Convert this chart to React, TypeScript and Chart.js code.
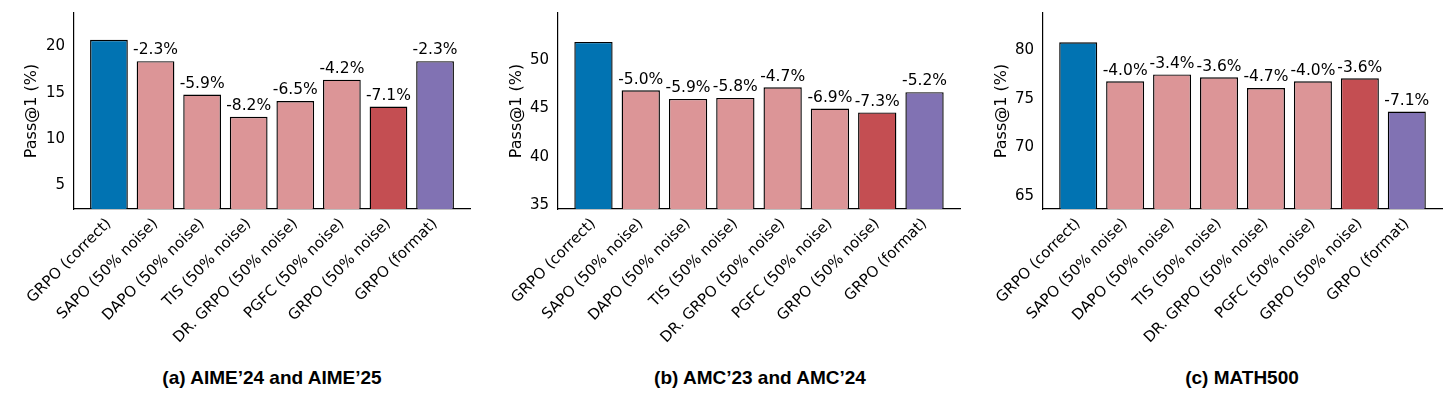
import React, { useEffect, useRef } from "react";
import { Chart, registerables } from "chart.js";
Chart.register(...registerables);

const categories = ["GRPO (correct)", "SAPO (50% noise)", "DAPO (50% noise)", "TIS (50% noise)", "DR. GRPO (50% noise)", "PGFC (50% noise)", "GRPO (50% noise)", "GRPO (format)"];
const aimeValues = [20.7, 18.4, 14.8, 12.4, 14.1, 16.4, 13.5, 18.4];
const aimeLabels = ["", "-2.3%", "-5.9%", "-8.2%", "-6.5%", "-4.2%", "-7.1%", "-2.3%"];
const aimeTicks = [5, 10, 15, 20];
const amcValues = [51.9, 46.9, 46.0, 46.1, 47.2, 45.0, 44.6, 46.7];
const amcLabels = ["", "-5.0%", "-5.9%", "-5.8%", "-4.7%", "-6.9%", "-7.3%", "-5.2%"];
const amcTicks = [35, 40, 45, 50];
const mathValues = [80.8, 76.8, 77.5, 77.2, 76.1, 76.8, 77.1, 73.7];
const mathLabels = ["", "-4.0%", "-3.4%", "-3.6%", "-4.7%", "-4.0%", "-3.6%", "-7.1%"];
const mathTicks = [65, 70, 75, 80];
const titles = ["(a) AIME\u201924 and AIME\u201925", "(b) AMC\u201923 and AMC\u201924", "(c) MATH500"];

const colors = ["#0173b2", "#dc9597", "#dc9597", "#dc9597", "#dc9597", "#dc9597", "#c44e52", "#8172b3"];
const FONT = "'DejaVu Sans', sans-serif";
const SHIFT = 20;

type P = { left: number; yw: number; right: number; values: number[]; labels: string[]; ticks: number[]; min: number; max: number; title: string; center: number };
const panels: P[] = [
  { left: 0, yw: 74, right: 15, values: aimeValues, labels: aimeLabels, ticks: aimeTicks, min: 2.45, max: 23.6, title: titles[0], center: 272 },
  { left: 485, yw: 73, right: 10, values: amcValues, labels: amcLabels, ticks: amcTicks, min: 34.6, max: 54.9, title: titles[1], center: 760 },
  { left: 970, yw: 73, right: 13, values: mathValues, labels: mathLabels, ticks: mathTicks, min: 63.7, max: 83.8, title: titles[2], center: 1242 },
];

function Panel({ p }: { p: P }) {
  const ref = useRef<HTMLCanvasElement>(null);
  useEffect(() => {
    const labelPlugin = {
      id: "vl",
      afterDatasetsDraw(chart: any) {
        const ctx = chart.ctx;
        const meta = chart.getDatasetMeta(0);
        ctx.save();
        ctx.font = `15.5px ${FONT}`;
        ctx.fillStyle = "#000";
        ctx.textAlign = "center";
        ctx.textBaseline = "bottom";
        meta.data.forEach((b: any, i: number) => {
          if (p.labels[i]) ctx.fillText(p.labels[i], b.x, b.y - 3);
        });
        ctx.restore();
      },
    };
    const c = new Chart(ref.current!, {
      type: "bar",
      data: {
        datasets: [{
          data: p.values.map((v, i) => ({ x: i, y: v })),
          backgroundColor: colors, borderColor: "#000", borderWidth: 1.4, borderSkipped: false,
          barPercentage: 0.81, categoryPercentage: 1,
        }],
      },
      options: {
        animation: false,
        responsive: false,
        layout: { padding: { top: 10, right: p.right, left: 0, bottom: 0 } },
        plugins: { legend: { display: false }, tooltip: { enabled: false } },
        scales: {
          x: {
            type: "linear",
            min: -0.75,
            max: 7.75,
            offset: false,
            grid: { display: false, drawTicks: true, tickLength: 5, tickColor: "#000" } as any,
            border: { color: "#000", width: 1.2 },
            afterBuildTicks: (s: any) => { s.ticks = categories.map((_, i) => ({ value: i })); },
            ticks: { color: "#000", font: { family: FONT, size: 15 }, minRotation: 45, maxRotation: 45, autoSkip: false, padding: 1, callback: (v: any) => categories[v] },
            afterFit: (s: any) => { s.height = 141; },
          },
          y: {
            min: p.min,
            max: p.max,
            grid: { display: false, drawTicks: true, tickLength: 5, tickColor: "#000" } as any,
            border: { color: "#000", width: 1.2 },
            ticks: { color: "#000", font: { family: FONT, size: 15 }, padding: 4 },
            afterBuildTicks: (s: any) => { s.ticks = p.ticks.map((v) => ({ value: v })); },
            title: { display: true, text: "Pass@1 (%)", color: "#000", font: { family: FONT, size: 16 }, padding: 2 },
            afterFit: (s: any) => { s.width = p.yw - SHIFT; },
          },
        },
      },
      plugins: [labelPlugin],
    });
    return () => c.destroy();
  }, []);
  return (
    <>
      <canvas ref={ref} width={485 - SHIFT} height={350} style={{ position: "absolute", left: p.left + SHIFT, top: 0 }} />
      <div style={{ position: "absolute", left: p.center - 200, width: 400, top: 367, textAlign: "center", fontFamily: "'Liberation Sans', Arial, sans-serif", fontWeight: "bold", fontSize: 19 }}>{p.title}</div>
    </>
  );
}

export default function App() {
  useEffect(() => { document.body.style.margin = "0"; }, []);
  return (
    <div style={{ position: "relative", width: 1456, height: 410, background: "#fff" }}>
      {panels.map((p, i) => <Panel key={i} p={p} />)}
    </div>
  );
}
